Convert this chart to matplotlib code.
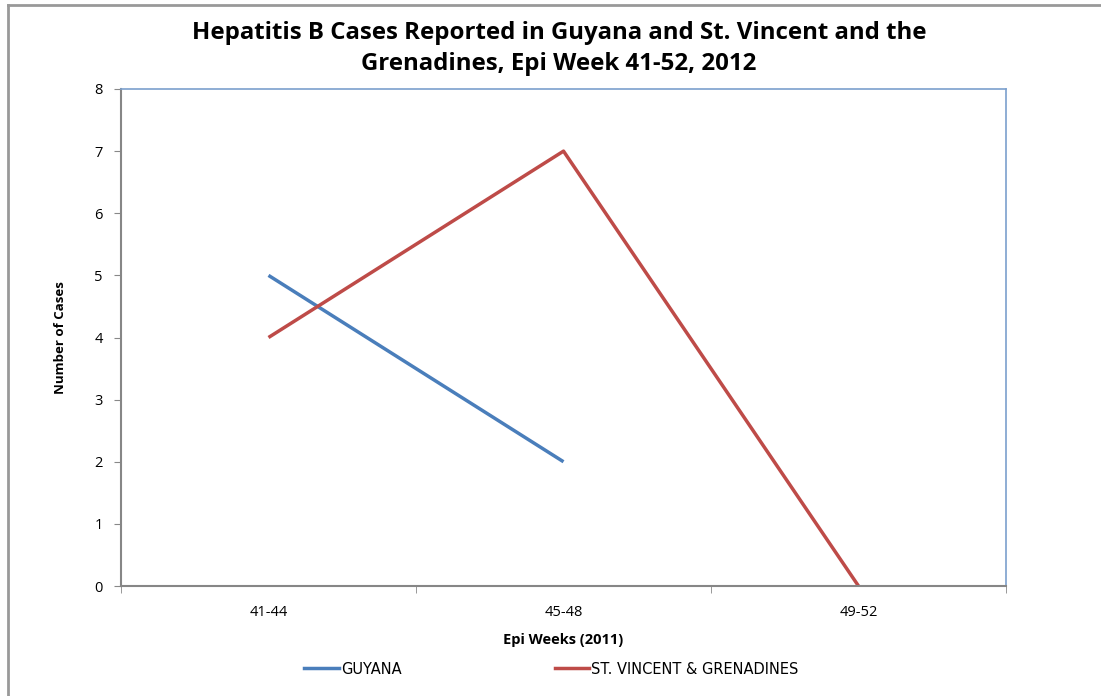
import numpy as np
import matplotlib
matplotlib.use("Agg")
import matplotlib.pyplot as plt
from matplotlib.lines import Line2D

plt.rcParams['font.family'] = ['Open Sans', 'DejaVu Sans']

categories = ["41-44", "45-48", "49-52"]
guyana = [5, 2, np.nan]
st_vincent = [4, 7, 0]
y_ticks = [0, 1, 2, 3, 4, 5, 6, 7, 8]

W, H = 1101, 696
fig = plt.figure(figsize=(W / 100, H / 100), dpi=100)

# outer chart frame (left and top edges)
fig.add_artist(Line2D([7.5 / W, 7.5 / W], [0, 1 - 4.5 / H], color="#999999", lw=2))
fig.add_artist(Line2D([7.5 / W, 1], [1 - 4.5 / H, 1 - 4.5 / H], color="#999999", lw=2))

left, right, top, bottom = 121, 1006, 89, 586
ax = fig.add_axes([left / W, 1 - bottom / H, (right - left) / W, (bottom - top) / H])

x = np.arange(len(categories))
ax.plot(x, guyana, color="#4A7EBB", lw=2.5, solid_capstyle="butt")
ax.plot(x, st_vincent, color="#BE4B48", lw=2.5, solid_capstyle="butt")

ax.set_xlim(-0.5, len(categories) - 0.5)
ax.set_ylim(0, 8)
ax.set_yticks(y_ticks)
ax.set_xticks(x)
ax.set_xticklabels(categories)
ax.set_xticks(np.arange(-0.5, len(categories)), minor=True)
ax.tick_params(axis="x", which="major", length=0, pad=14, labelsize=10.5, colors="#000000")
ax.tick_params(axis="x", which="minor", length=5, direction="out", color="#888888")
ax.tick_params(axis="y", length=5, direction="out", color="#888888", pad=8, labelsize=10.5)

for s in ("left", "bottom"):
    ax.spines[s].set_color("#868686")
    ax.spines[s].set_linewidth(1.5)
for s in ("top", "right"):
    ax.spines[s].set_color("#7BA0CD")
    ax.spines[s].set_linewidth(1.2)

ax.set_xlabel("Epi Weeks (2011)", fontsize=10.5, fontweight="bold", labelpad=9)
ax.set_ylabel("Number of Cases", fontsize=9.5, fontweight="bold", labelpad=20)

fig.text(559 / W, 1 - 48.5 / H,
         "Hepatitis B Cases Reported in Guyana and St. Vincent and the\nGrenadines, Epi Week 41-52, 2012",
         ha="center", va="center", fontsize=17.3, fontweight="bold", linespacing=1.4)

handles = [Line2D([], [], color="#4A7EBB", lw=2.5), Line2D([], [], color="#BE4B48", lw=2.5)]
fig.legend(handles, ["GUYANA", "ST. VINCENT & GRENADINES"], loc="center",
           bbox_to_anchor=(551.5 / W, 1 - 669 / H), ncol=2, frameon=False,
           prop={"family": "DejaVu Sans", "size": 10.5},
           handlelength=2.35, handletextpad=0.15, columnspacing=10.5)

fig.savefig("out.png", dpi=100, facecolor="white")
